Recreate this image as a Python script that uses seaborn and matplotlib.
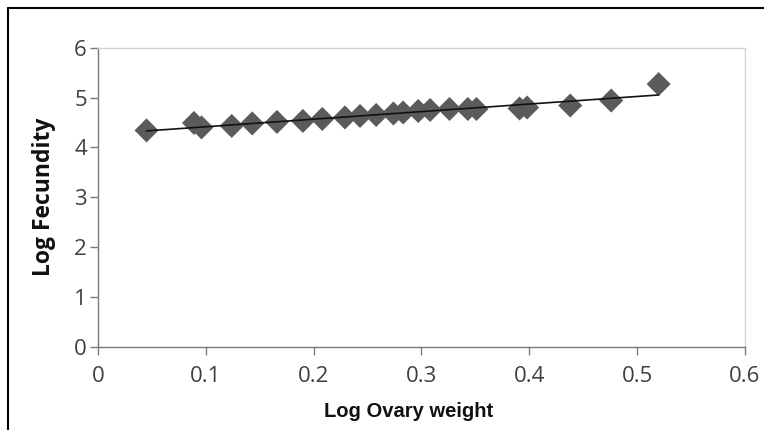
import numpy as np
import pandas as pd
import matplotlib
matplotlib.use("Agg")
import matplotlib.pyplot as plt
from matplotlib.lines import Line2D
import seaborn as sns

# Data
log_ovary_weight = [0.045, 0.089, 0.096, 0.124, 0.143, 0.166, 0.190, 0.208,
                    0.229, 0.243, 0.258, 0.274, 0.283, 0.297, 0.308, 0.326,
                    0.343, 0.351, 0.391, 0.398, 0.438, 0.476, 0.520]
log_fecundity = [4.34, 4.49, 4.40, 4.43, 4.48, 4.51, 4.53, 4.57,
                 4.60, 4.63, 4.65, 4.68, 4.70, 4.73, 4.75, 4.77,
                 4.77, 4.77, 4.78, 4.80, 4.84, 4.94, 5.27]
x_ticks = [0, 0.1, 0.2, 0.3, 0.4, 0.5, 0.6]
x_tick_labels = ["0", "0.1", "0.2", "0.3", "0.4", "0.5", "0.6"]
y_ticks = [0, 1, 2, 3, 4, 5, 6]

df = pd.DataFrame({"x": log_ovary_weight, "y": log_fecundity})

sns.set_theme(style="white")
plt.rcParams["font.family"] = ["Open Sans", "DejaVu Sans"]

fig = plt.figure(figsize=(7.64, 4.30), dpi=100)
ax = fig.add_axes([0.1283, 0.194, 0.975 - 0.1283, 0.889 - 0.194])

sns.regplot(data=df, x="x", y="y", ax=ax, ci=None, marker="D",
            scatter_kws=dict(s=150, color="#5b5b5b", edgecolor="none", alpha=1, zorder=2),
            line_kws=dict(color="#111111", lw=1.2, zorder=3))

ax.set_xlim(0, 0.6)
ax.set_ylim(0, 6)
ax.set_xticks(x_ticks)
ax.set_xticklabels(x_tick_labels)
ax.set_yticks(y_ticks)

for side in ["top", "right"]:
    ax.spines[side].set_color("#d4d4d4")
    ax.spines[side].set_linewidth(1.0)
for side in ["left", "bottom"]:
    ax.spines[side].set_color("#7a7a7a")
    ax.spines[side].set_linewidth(1.0)

ax.tick_params(axis="both", which="major", direction="out", length=6, width=1,
               color="#7a7a7a", labelsize=16, labelcolor="#404040", pad=2,
               left=True, bottom=True)
ax.tick_params(axis="x", pad=8)

ax.set_xlabel("Log Ovary weight", fontsize=14.5, fontweight="bold", color="#111111",
              family=["Liberation Sans", "DejaVu Sans"])
ax.set_ylabel("Log Fecundity", fontsize=16.5, fontweight="bold", color="#111111",
              family=["Open Sans", "DejaVu Sans"])
ax.xaxis.label.set_verticalalignment("center")
ax.yaxis.label.set_verticalalignment("center")
ax.xaxis.set_label_coords(0.48, -0.216)
ax.yaxis.set_label_coords(-0.084, 0.5)

# Figure frame lines (top and left)
fig.add_artist(Line2D([7.5 / 764, 1.0], [1 - 7.5 / 430, 1 - 7.5 / 430],
                      transform=fig.transFigure, color="black", lw=1.5))
fig.add_artist(Line2D([7.5 / 764, 7.5 / 764], [0.0, 1 - 7.5 / 430],
                      transform=fig.transFigure, color="black", lw=1.5))

fig.savefig("out.png", dpi=100, facecolor="white")
